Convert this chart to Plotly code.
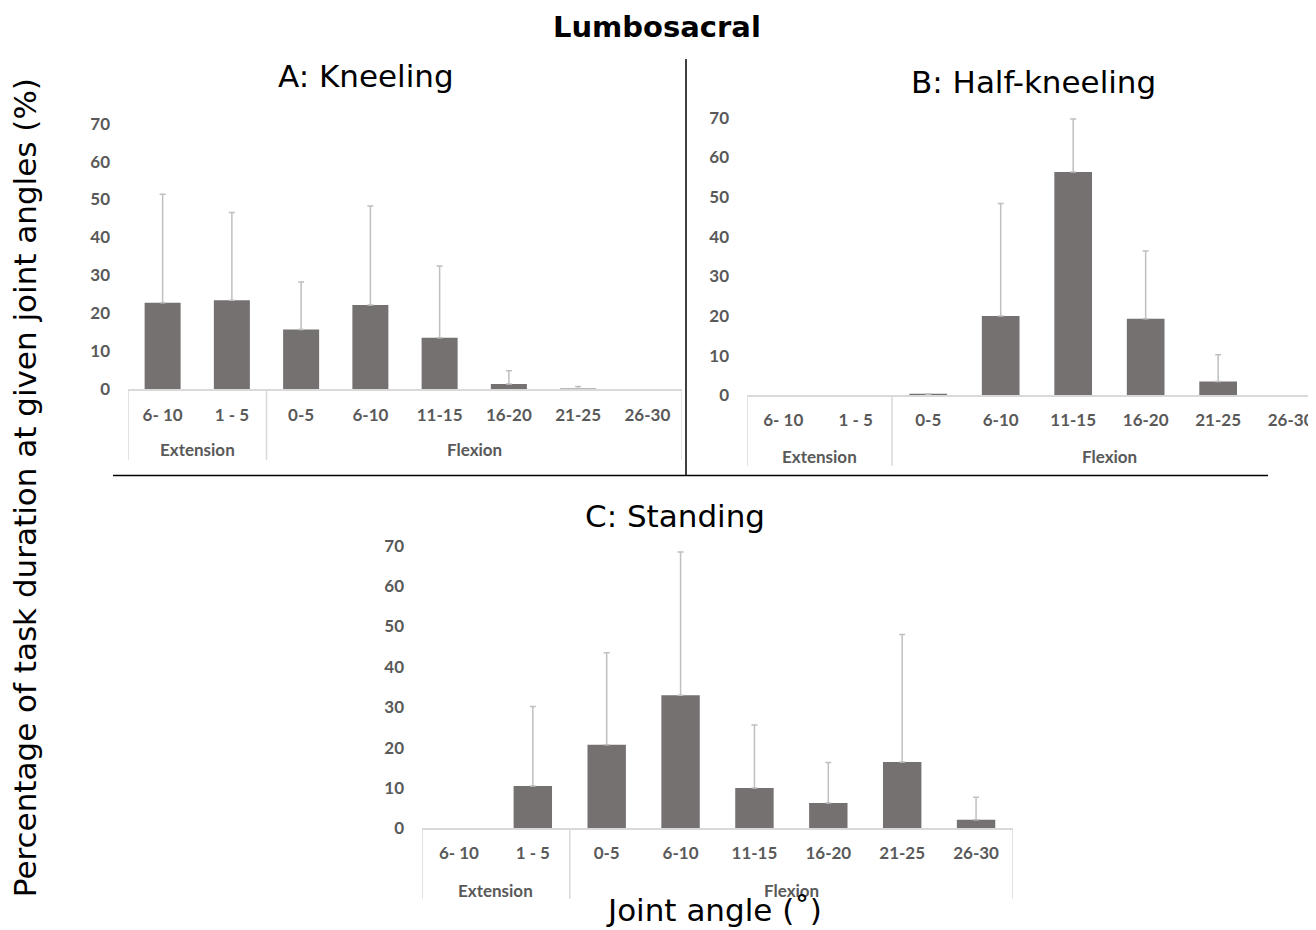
import plotly.graph_objects as go

groups = ["Extension", "Extension", "Flexion", "Flexion", "Flexion", "Flexion", "Flexion", "Flexion"]
angles = ["6- 10", "1 - 5", "0-5", "6-10", "11-15", "16-20", "21-25", "26-30"]

kneel_mean = [22.8, 23.5, 15.8, 22.2, 13.6, 1.4, 0.1, 0]
kneel_sd = [28.6, 23.1, 12.5, 26.1, 18.9, 3.5, 0.7, None]

half_mean = [0, 0, 0.2, 20.0, 56.3, 19.3, 3.5, 0]
half_sd = [None, None, 0.2, 28.4, 13.4, 17.1, 6.7, None]

stand_mean = [0, 10.5, 20.7, 33.0, 10.0, 6.3, 16.4, 2.1]
stand_sd = [None, 19.7, 22.8, 35.5, 15.6, 10.0, 31.6, 5.6]

y_ticks = [0, 10, 20, 30, 40, 50, 60, 70]

W, H = 1316, 930
OFF = 8  # page margin of the html body
bar_col = "#767171"
err_col = "#bfbfbf"
axis_col = "#d9d9d9"
tick_font = dict(family="Lato", size=17, color="#595959", weight="bold")


def px_x(p):
    return (p - OFF) / W


def px_y(p):
    return 1 - (p - OFF) / H


fig = go.Figure()

panels = [
    (kneel_mean, kneel_sd, "x", "y"),
    (half_mean, half_sd, "x2", "y2"),
    (stand_mean, stand_sd, "x3", "y3"),
]
for mean, sd, xa, ya in panels:
    fig.add_trace(go.Bar(
        x=angles, y=mean, xaxis=xa, yaxis=ya,
        marker=dict(color=bar_col, line=dict(width=0)), width=0.52,
        showlegend=False,
    ))
    # upper error bars only where an SD exists
    keep = [i for i, s in enumerate(sd) if s is not None]
    fig.add_trace(go.Scatter(
        x=[angles[i] for i in keep], y=[mean[i] for i in keep], xaxis=xa, yaxis=ya,
        mode="markers", marker=dict(size=1, opacity=0),
        error_y=dict(type="data", symmetric=False, array=[sd[i] for i in keep],
                     arrayminus=[0] * len(keep), color=err_col, thickness=1.5, width=3),
        showlegend=False, hoverinfo="skip",
    ))

# plot areas in pixels: (left, right, zero line, top of 70, x range, group label offset, right box edge?)
boxes = {
    "": (128, 682, 387, 115, [-0.5, 7.5], 61, True),
    "2": (747, 1316, 393, 109, [-0.5, 7.35], 63, False),
    "3": (422, 1013, 836, 547, [-0.5, 7.5], 64, True),
}
for k, (l, r, b, t, xr, goff, right_edge) in boxes.items():
    fig.update_layout({
        "xaxis" + k: dict(
            domain=[px_x(l), px_x(r)], anchor="y" + k, type="category", range=xr,
            categoryorder="array", categoryarray=angles,
            showline=True, linecolor=axis_col, linewidth=1.5, showgrid=False, zeroline=False,
            ticks="", tickfont=tick_font, ticklabelstandoff=9, fixedrange=True,
        ),
        "yaxis" + k: dict(
            domain=[px_y(b), px_y(t)], anchor="x" + k, range=[0, 70], tickvals=y_ticks,
            showline=False, showgrid=False, zeroline=False, ticks="",
            tickfont=tick_font, ticklabelstandoff=17, fixedrange=True,
        ),
    })
    # Excel style group box: Extension | Flexion
    xref = "x" + k
    n_ext = groups.count("Extension")
    bounds = [-0.5, n_ext - 0.5] + ([len(angles) - 0.5] if right_edge else [])
    for xb in bounds:
        fig.add_shape(type="line", xref=xref, yref="paper", x0=xb, x1=xb,
                      y0=px_y(b), y1=px_y(b + 72), line=dict(color=axis_col, width=1.5))
    for g in ["Extension", "Flexion"]:
        idx = [i for i, v in enumerate(groups) if v == g]
        fig.add_annotation(xref=xref, yref="paper", x=(idx[0] + idx[-1]) / 2, y=px_y(b + goff),
                           text=g, showarrow=False, font=tick_font, xanchor="center", yanchor="middle")

title_font = dict(family="DejaVu Sans", size=31, color="#000000")
annots = [
    dict(text="<b>Lumbosacral</b>", x=px_x(657), y=px_y(16), font=dict(family="DejaVu Sans", size=29, color="#000000")),
    dict(text="A: Kneeling", x=px_x(366), y=px_y(66), font=title_font),
    dict(text="B: Half-kneeling", x=px_x(1033), y=px_y(72), font=title_font),
    dict(text="C: Standing", x=px_x(675), y=px_y(516), font=title_font),
    dict(text="Joint angle (˚)", x=px_x(714), y=px_y(920), font=title_font),
    dict(text="Percentage of task duration at given joint angles (%)", x=px_x(25), y=px_y(488),
         textangle=-90, font=title_font),
]
for a in annots:
    fig.add_annotation(xref="paper", yref="paper", showarrow=False, xanchor="center", yanchor="middle", **a)

# panel separator lines
fig.add_shape(type="line", xref="paper", yref="paper", x0=px_x(686), x1=px_x(686), y0=px_y(49), y1=px_y(475),
              line=dict(color="#000000", width=1.5))
fig.add_shape(type="line", xref="paper", yref="paper", x0=px_x(113), x1=px_x(1268), y0=px_y(475), y1=px_y(475),
              line=dict(color="#000000", width=1.5))

fig.update_layout(
    width=W, height=H, margin=dict(l=0, r=0, t=0, b=0),
    paper_bgcolor="white", plot_bgcolor="white",
)

fig.write_html("out.html")
